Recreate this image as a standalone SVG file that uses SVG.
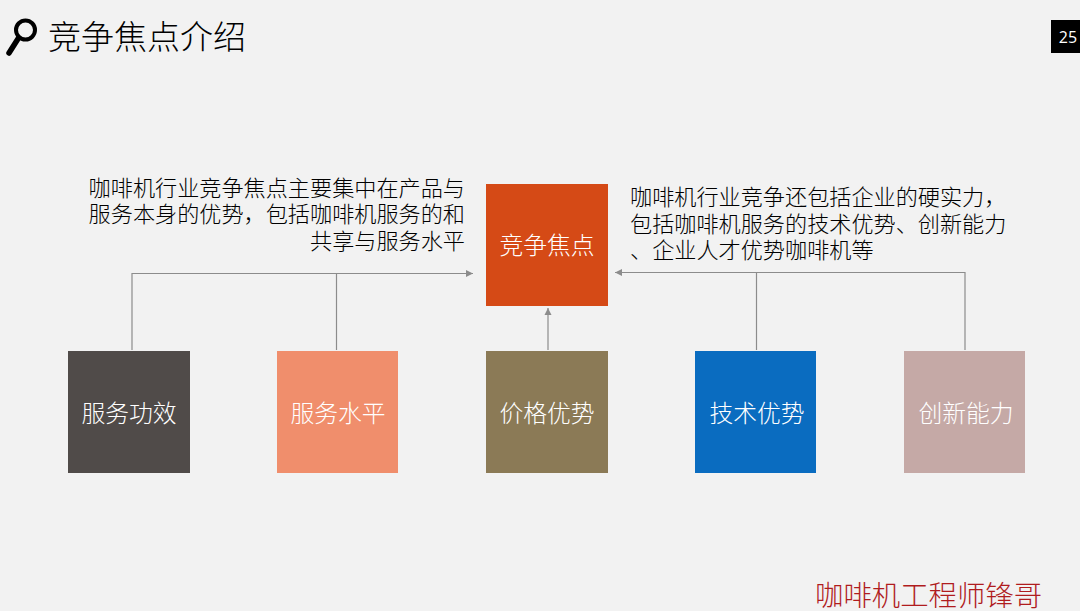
<svg xmlns="http://www.w3.org/2000/svg" width="1080" height="611" viewBox="0 0 1080 611">
<defs>
<style>
text{font-family:"Noto Sans CJK SC","Liberation Sans",sans-serif;font-weight:300}
.box{font-size:23.8px;fill:#fff;text-anchor:middle}
.body{font-size:22.15px;fill:#000}
.line{fill:none;stroke:#8c8c8c;stroke-width:1.2}
</style>
<marker id="arr" markerUnits="userSpaceOnUse" markerWidth="8" markerHeight="8" refX="7" refY="4" orient="auto"><path d="M0 0.5L7 4L0 7.5Z" fill="#8c8c8c"/></marker>
</defs>
<rect width="1080" height="611" fill="#f2f2f2"/>
<g id="icon"><circle cx="25.500" cy="30" r="9.500" fill="none" stroke="#000" stroke-width="4"/><path d="M18.500 38L9 53" stroke="#000" stroke-width="5.500" stroke-linecap="round" fill="none"/></g>
<text id="title" x="48" y="49" font-size="33" fill="#000">竞争焦点介绍</text>
<g id="page"><rect x="1051" y="20" width="29" height="33" fill="#000"/><text x="1068" y="43" font-size="16" fill="#fff" text-anchor="middle" style="font-family:'Open Sans',sans-serif;font-weight:400">25</text></g>
<g id="connectors">
<path class="line" d="M132 350V273.500H473" marker-end="url(#arr)"/>
<path class="line" d="M336.500 350V274"/>
<path class="line" d="M548 350V308" marker-end="url(#arr)"/>
<path class="line" d="M965 350V272.500H615" marker-end="url(#arr)"/>
<path class="line" d="M756.500 350V273"/>
</g>
<g id="n-focus"><rect x="486" y="184" width="122" height="122" fill="#d54a16"/><text class="box" x="547" y="254">竞争焦点</text></g>
<g id="n-effect"><rect x="68" y="351" width="122" height="122" fill="#504b49"/><text class="box" x="129" y="422">服务功效</text></g>
<g id="n-level"><rect x="277" y="351" width="121" height="122" fill="#f08e6c"/><text class="box" x="338" y="422">服务水平</text></g>
<g id="n-price"><rect x="486" y="351" width="122" height="122" fill="#8b7a56"/><text class="box" x="547" y="422">价格优势</text></g>
<g id="n-tech"><rect x="695" y="351" width="121" height="122" fill="#0a6cc0"/><text class="box" x="757" y="422">技术优势</text></g>
<g id="n-innov"><rect x="904" y="351" width="121" height="122" fill="#c5a9a6"/><text class="box" x="966" y="422">创新能力</text></g>
<g id="left-text" text-anchor="end">
<text class="body" x="465" y="195.500">咖啡机行业竞争焦点主要集中在产品与</text>
<text class="body" x="465" y="222">服务本身的优势，包括咖啡机服务的和</text>
<text class="body" x="465" y="248.500">共享与服务水平</text>
</g>
<g id="right-text">
<text class="body" x="630" y="205">咖啡机行业竞争还包括企业的硬实力，</text>
<text class="body" x="630" y="232">包括咖啡机服务的技术优势、创新能力</text>
<text class="body" x="630" y="258">、企业人才优势咖啡机等</text>
</g>
<text id="watermark" x="815" y="606" font-size="28.400" fill="#b01c1e">咖啡机工程师锋哥</text>
</svg>
